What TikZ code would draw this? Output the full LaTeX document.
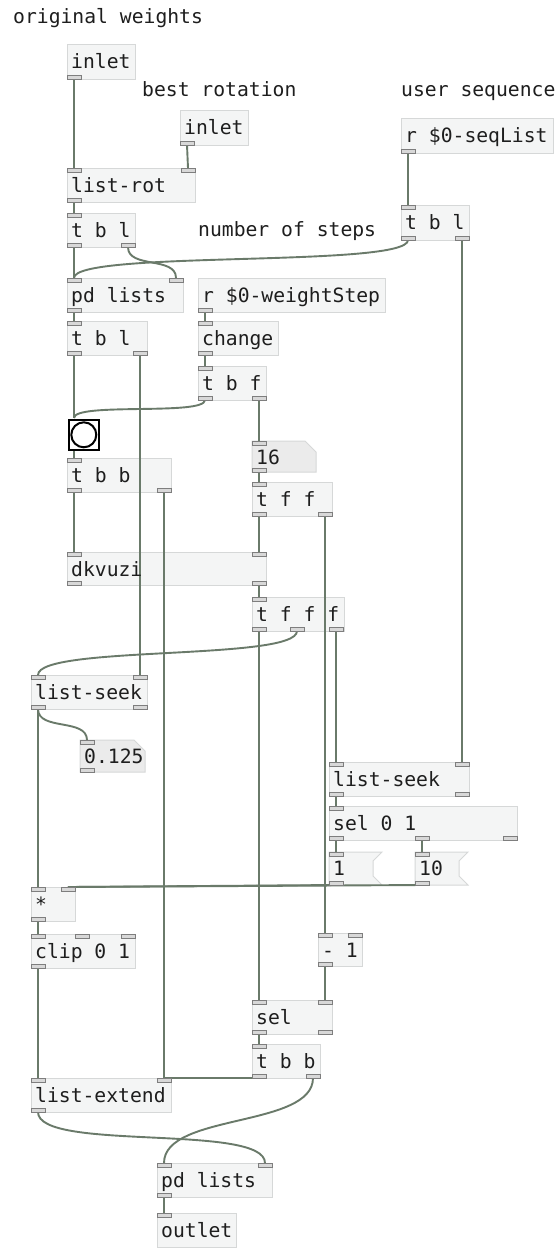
\documentclass[tikz,border=0pt]{standalone}
\usepackage{fontspec}
\setmainfont{DejaVu Sans Mono}
\pgfdeclarelayer{bg}\pgfdeclarelayer{fg}\pgfsetlayers{bg,main,fg}
\definecolor{boxfill}{HTML}{F4F5F5}
\definecolor{boxline}{HTML}{D6D8D8}
\definecolor{numfill}{HTML}{EBEBEB}
\definecolor{nubfill}{HTML}{D8D8D8}
\definecolor{nubline}{HTML}{7E7E7E}
\definecolor{wirec}{HTML}{6A7A6A}
\definecolor{txtc}{HTML}{1E1E1E}
\tikzset{
  objbox/.style={draw=boxline, fill=boxfill, line width=1pt, inner sep=0pt, outer sep=0pt},
  numbox/.style={draw=boxline, fill=numfill, line width=1pt},
  msgbox/.style={draw=boxline, fill=boxfill, line width=1pt},
  nub/.style={draw=nubline, fill=nubfill, line width=1pt},
  wire/.style={draw=wirec, line width=1.9pt},
  txt/.style={anchor=base west, inner sep=0pt, text=txtc, font=\fontsize{19.7}{22}\selectfont},
}
\newcommand\pdobj[6]{%
  \begin{pgfonlayer}{bg}
    \node[objbox, minimum width={#4-#2}, minimum height={#5-#3}, anchor=north west] (#1-box) at (#2,#3) {};
  \end{pgfonlayer}
  \begin{pgfonlayer}{fg}
    \node[txt] (#1) at (#2+4,#3+24) {#6};
  \end{pgfonlayer}}
\newcommand\pdnum[6]{%
  \begin{pgfonlayer}{bg}
    \path[numbox] (#2,#3) -- (#4-11,#3) -- (#4,#3+11) -- (#4,#5) -- (#2,#5) -- cycle;
  \end{pgfonlayer}
  \begin{pgfonlayer}{fg}
    \node[txt] (#1) at (#2+4,#3+23) {#6};
  \end{pgfonlayer}}
\newcommand\pdmsg[6]{%
  \begin{pgfonlayer}{bg}
    \path[msgbox] (#2,#3) -- (#4,#3) -- (#4-9,#3+9) -- (#4-9,#5-9) -- (#4,#5) -- (#2,#5) -- cycle;
  \end{pgfonlayer}
  \begin{pgfonlayer}{fg}
    \node[txt] (#1) at (#2+4,#3+23) {#6};
  \end{pgfonlayer}}
\newcommand\pdins[3]{%
  \begin{pgfonlayer}{fg}
  \foreach \px [count=\pi from 0] in {#3} {%
    \path[nub] (\px,#2) rectangle ++(14,4);
    \coordinate (#1-i\pi) at (\px+7,#2);}
  \end{pgfonlayer}}
\newcommand\pdouts[3]{%
  \begin{pgfonlayer}{fg}
  \foreach \px [count=\pi from 0] in {#3} {%
    \path[nub] (\px,#2) rectangle ++(14,-4);
    \coordinate (#1-o\pi) at (\px+7,#2);}
  \end{pgfonlayer}}
\begin{document}
\begin{tikzpicture}[x=1pt,y=-1pt]
\begin{pgfonlayer}{bg}
\fill[white] (0,0) rectangle (557,1248);
\end{pgfonlayer}
\useasboundingbox (0,0) rectangle (557,1248);

% comments
\node[txt] (c1) at (13,23) {original weights};
\node[txt] (c2) at (142,96) {best rotation};
\node[txt] (c3) at (401,96) {user sequence};
\node[txt] (c4) at (198,236) {number of steps};

% objects
\pdobj{inA}{67}{44}{135}{79}{inlet}
\pdouts{inA}{79}{67}
\pdobj{inB}{180}{110}{248}{145}{inlet}
\pdouts{inB}{145}{180}
\pdobj{rot}{67}{168}{195}{202}{list-rot}
\pdins{rot}{168}{67,181}\pdouts{rot}{202}{67}
\pdobj{tbla}{67}{213}{135}{247}{t b l}
\pdins{tbla}{213}{67}\pdouts{tbla}{247}{67,121}
\pdobj{seqr}{401}{118}{553}{153}{r \$0-seqList}
\pdouts{seqr}{153}{401}
\pdobj{tblb}{401}{205}{469}{240}{t b l}
\pdins{tblb}{205}{401}\pdouts{tblb}{240}{401,455}
\pdobj{pdla}{67}{278}{183}{312}{pd lists}
\pdins{pdla}{278}{67,169}\pdouts{pdla}{312}{67}
\pdobj{wsr}{198}{278}{385}{312}{r \$0-weightStep}
\pdouts{wsr}{312}{198}
\pdobj{tblc}{67}{321}{147}{355}{t b l}
\pdins{tblc}{321}{67}\pdouts{tblc}{355}{67,133}
\pdobj{chg}{198}{321}{278}{355}{change}
\pdins{chg}{321}{198}\pdouts{chg}{355}{198}
\pdobj{tbf}{198}{366}{266}{400}{t b f}
\pdins{tbf}{366}{198}\pdouts{tbf}{400}{198,252}

% bang
\begin{pgfonlayer}{fg}
\node[draw=black, fill=white, line width=2.6pt, minimum size=30pt, inner sep=0pt, anchor=north west] (bng) at (67.5,418.5) {};
\draw[black, line width=2pt, fill=white] (bng.center) circle (12.5);
\end{pgfonlayer}
\coordinate (bng-i0) at (74,418);
\coordinate (bng-o0) at (74,449);

\pdobj{tbba}{67}{458}{171}{492}{t b b}
\pdins{tbba}{458}{67}\pdouts{tbba}{492}{67,157}
\pdnum{nsix}{252}{441}{316}{472}{16}
\pdins{nsix}{441}{252}\pdouts{nsix}{472}{252}
\pdobj{tff}{252}{482}{332}{516}{t f f}
\pdins{tff}{482}{252}\pdouts{tff}{516}{252,318}
\pdobj{dkv}{67}{552}{266}{585}{dkvuzi}
\pdins{dkv}{552}{67,252}\pdouts{dkv}{585}{67,252}
\pdobj{tfff}{252}{597}{344}{631}{t f f f}
\pdins{tfff}{597}{252}\pdouts{tfff}{631}{252,290,329}
\pdobj{lsa}{31}{675}{147}{709}{list-seek}
\pdins{lsa}{675}{31,133}\pdouts{lsa}{709}{31,133}
\pdnum{nfrac}{80}{740}{145}{772}{0.125}
\pdins{nfrac}{740}{80}\pdouts{nfrac}{772}{80}
\pdobj{lsb}{329}{762}{469}{796}{list-seek}
\pdins{lsb}{762}{329,455}\pdouts{lsb}{796}{329,455}
\pdobj{selb}{329}{806}{517}{840}{sel 0 1}
\pdins{selb}{806}{329}\pdouts{selb}{840}{329,415,503}
\pdmsg{mone}{329}{852}{382}{885}{1}
\pdins{mone}{852}{329}\pdouts{mone}{885}{329}
\pdmsg{mten}{415}{852}{468}{885}{10}
\pdins{mten}{852}{415}\pdouts{mten}{885}{415}
\pdobj{mul}{31}{887}{75}{921}{*}
\pdins{mul}{887}{31,61}\pdouts{mul}{921}{31}
\pdobj{clip}{31}{934}{135}{968}{clip 0 1}
\pdins{clip}{934}{31,75,121}\pdouts{clip}{968}{31}
\pdobj{sub}{318}{933}{362}{966}{- 1}
\pdins{sub}{933}{318,348}\pdouts{sub}{966}{318}
\pdobj{sela}{252}{1000}{332}{1034}{sel}
\pdins{sela}{1000}{252,318}\pdouts{sela}{1034}{252,318}
\pdobj{tbbb}{252}{1044}{320}{1078}{t b b}
\pdins{tbbb}{1044}{252}\pdouts{tbbb}{1078}{252,306}
\pdobj{lext}{31}{1078}{171}{1112}{list-extend}
\pdins{lext}{1078}{31,157}\pdouts{lext}{1112}{31}
\pdobj{pdlb}{157}{1163}{272}{1197}{pd lists}
\pdins{pdlb}{1163}{157,258}\pdouts{pdlb}{1197}{157}
\pdobj{outl}{157}{1213}{236}{1247}{outlet}
\pdins{outl}{1213}{157}

% connections
\draw[wire] (inA-o0) -- (rot-i0);
\draw[wire] (inB-o0) -- (rot-i1);
\draw[wire] (rot-o0) -- (tbla-i0);
\draw[wire] (tbla-o0) -- (pdla-i0);
\draw[wire] (tbla-o1) .. controls +(0,22) and +(0,-22) .. (pdla-i1);
\draw[wire] (seqr-o0) -- (tblb-i0);
\draw[wire] (tblb-o0) .. controls +(0,28) and +(0,-28) .. (pdla-i0);
\draw[wire] (tblb-o1) -- (lsb-i1);
\draw[wire] (pdla-o0) -- (tblc-i0);
\draw[wire] (wsr-o0) -- (chg-i0);
\draw[wire] (chg-o0) -- (tbf-i0);
\draw[wire] (tblc-o0) -- (bng-i0);
\draw[wire] (tbf-o0) .. controls +(0,16) and +(0,-16) .. (bng-i0);
\draw[wire] (tbf-o1) -- (nsix-i0);
\draw[wire] (bng-o0) -- (tbba-i0);
\draw[wire] (tblc-o1) -- (lsa-i1);
\draw[wire] (tbba-o0) -- (dkv-i0);
\draw[wire] (tbba-o1) -- (lext-i1);
\draw[wire] (nsix-o0) -- (tff-i0);
\draw[wire] (tff-o0) -- (dkv-i1);
\draw[wire] (tff-o1) -- (sub-i0);
\draw[wire] (dkv-o1) -- (tfff-i0);
\draw[wire] (tfff-o0) -- (sela-i0);
\draw[wire] (tfff-o1) .. controls +(0,30) and +(0,-30) .. (lsa-i0);
\draw[wire] (tfff-o2) -- (lsb-i0);
\draw[wire] (lsa-o0) .. controls +(0,22) and +(0,-22) .. (nfrac-i0);
\draw[wire] (lsa-o0) -- (mul-i0);
\draw[wire] (lsb-o0) -- (selb-i0);
\draw[wire] (selb-o0) -- (mone-i0);
\draw[wire] (selb-o1) -- (mten-i0);
\draw[wire] (mone-o0) -- (mul-i1);
\draw[wire] (mten-o0) -- (mul-i1);
\draw[wire] (mul-o0) -- (clip-i0);
\draw[wire] (clip-o0) -- (lext-i0);
\draw[wire] (sub-o0) -- (sela-i1);
\draw[wire] (sela-o0) -- (tbbb-i0);
\draw[wire] (tbbb-o0) -- (lext-i1);
\draw[wire] (tbbb-o1) .. controls +(0,50) and +(0,-50) .. (pdlb-i0);
\draw[wire] (lext-o0) .. controls +(0,40) and +(0,-40) .. (pdlb-i1);
\draw[wire] (pdlb-o0) -- (outl-i0);
\end{tikzpicture}
\end{document}
